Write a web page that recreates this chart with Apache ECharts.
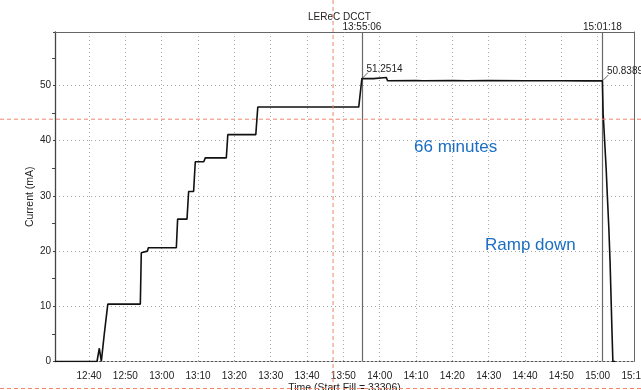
<!DOCTYPE html>
<html>
<head>
<meta charset="utf-8">
<title>LEReC DCCT</title>
<script src="https://cdn.jsdelivr.net/npm/echarts@6/dist/echarts.min.js"></script>
<style>
  html, body { margin: 0; padding: 0; background: #ffffff; }
  #chart { width: 641px; height: 390px; }
</style>
</head>
<body>
<div id="chart"></div>
<script>
// Beam current during fill 33306 (DCCT readback)
const fillTimes = [
  '12:30:38', '12:42:12', '12:42:50', '12:43:23', '12:44:13', '12:44:37', '12:45:10',
  '12:49:40', '12:49:55', '12:50:10', '12:52:25', '12:52:40', '12:52:55', '12:54:07',
  '12:54:23', '12:54:40', '12:56:05', '12:56:19', '13:04:02', '13:04:23', '13:06:58',
  '13:07:25', '13:08:47', '13:09:15', '13:11:35', '13:12:00', '13:17:47', '13:18:12',
  '13:25:54', '13:26:27', '13:54:14', '13:55:06', '13:58:15', '13:58:35', '14:01:50',
  '14:02:10', '14:10:00', '14:12:00', '14:20:00', '14:24:00', '14:30:00', '14:40:00',
  '14:50:00', '14:57:00', '15:00:00', '15:01:18', '15:01:30', '15:01:55', '15:02:20',
  '15:02:40', '15:03:05', '15:03:25', '15:03:40', '15:03:55', '15:04:11', '15:04:50'
];
const currentMA = [
  0, 0, 2.4, 0, 5.1, 5.1, 10.4,
  10.4, 10.6, 10.4, 10.4, 10.6, 10.4, 10.4,
  19.7, 20.0, 20.0, 20.6, 20.6, 25.8, 25.8,
  30.8, 30.8, 36.2, 36.2, 36.9, 36.9, 41.1,
  41.1, 46.1, 46.1, 51.2514, 51.25, 51.45, 51.45,
  50.88, 50.92, 50.86, 50.9, 50.87, 50.9, 50.86,
  50.88, 50.85, 50.86, 50.8389, 45.0, 40.0, 35.0,
  30.0, 24.0, 18.0, 12.0, 6.0, 0, 0
];

// Time markers and their readouts
const markerTimes = ['13:55:06', '15:01:18'];
const markerValues = [51.2514, 50.8389];

// Cursor crosshair position
const cursorTime = '13:47:10';
const cursorCurrent = 43.9;

// Notes written on the plot
const noteTexts = ['66 minutes', 'Ramp down'];

const axisStart = '12:30:38';
const axisEnd = '15:10:00';
const yMax = 59.7;

// clock time "HH:MM:SS" -> minutes after midnight
const toMin = s => {
  const p = s.split(':').map(Number);
  return p[0] * 60 + p[1] + (p[2] || 0) / 60;
};
const pad2 = n => (n < 10 ? '0' : '') + n;
const minLabel = v => {
  const m = Math.round(v);
  return pad2(Math.floor(m / 60)) + ':' + pad2(m % 60);
};

const FONT = '"Liberation Sans", Arial, sans-serif';
const TXT = '#222222';
const GRID_DOT = '#a8a8a8';
const CURSOR = '#f2866c';
const NOTE = '#1a6ec4';

const seriesData = fillTimes.map((t, i) => [toMin(t), currentMA[i]]);

const chart = echarts.init(document.getElementById('chart'), null, { renderer: 'canvas' });

chart.setOption({
  animation: false,
  backgroundColor: '#ffffff',
  title: {
    text: 'LEReC DCCT',
    left: 303,
    top: 7,
    textStyle: { fontFamily: FONT, fontSize: 10, fontWeight: 'normal', color: TXT }
  },
  grid: { left: 55, right: 7, top: 32, bottom: 28.5, outerBoundsMode: 'none', containLabel: false },
  xAxis: [{
    type: 'value',
    min: toMin(axisStart),
    max: toMin(axisEnd),
    splitNumber: 16,
    name: 'Time (Start Fill = 33306)',
    nameLocation: 'middle',
    nameGap: 21,
    nameMoveOverlap: false,
    nameTextStyle: { fontFamily: FONT, fontSize: 10.5, color: TXT },
    axisLine: { show: true, onZero: false, lineStyle: { color: '#555', width: 1, type: [2, 2] } },
    axisTick: { show: false },
    axisLabel: {
      formatter: v => minLabel(v),
      fontFamily: FONT, fontSize: 10, color: TXT, margin: 10,
      showMinLabel: false, showMaxLabel: true, hideOverlap: false
    },
    splitLine: { show: true, lineStyle: { color: GRID_DOT, width: 1, type: [1, 3] } }
  }, {
    type: 'value',
    position: 'top',
    min: toMin(axisStart),
    max: toMin(axisEnd),
    axisLine: { show: true, onZero: false, lineStyle: { color: '#666', width: 1 } },
    axisTick: { show: false },
    axisLabel: { show: false },
    splitLine: { show: false }
  }],
  yAxis: [{
    type: 'value',
    min: 0,
    max: yMax,
    interval: 10,
    name: 'Current (mA)',
    nameLocation: 'middle',
    nameGap: 19,
    nameMoveOverlap: false,
    nameTextStyle: { fontFamily: FONT, fontSize: 10.5, color: TXT },
    axisLine: { show: true, lineStyle: { color: '#444', width: 1.3 } },
    axisTick: { show: true, inside: false, length: 2, lineStyle: { color: '#444' } },
    minorTick: { show: true, splitNumber: 2, length: 3, lineStyle: { color: '#444' } },
    axisLabel: {
      fontFamily: FONT, fontSize: 10, color: TXT, margin: 4,
      showMaxLabel: false,
      formatter: v => (v % 10 === 0 ? String(v) : '')
    },
    splitLine: { show: true, lineStyle: { color: GRID_DOT, width: 1, type: [1, 3] } }
  }, {
    type: 'value',
    position: 'right',
    min: 0,
    max: yMax,
    axisLine: { show: true, lineStyle: { color: '#666', width: 1 } },
    axisTick: { show: false },
    axisLabel: { show: false },
    splitLine: { show: false }
  }],
  series: [{
    type: 'line',
    name: 'DCCT',
    data: seriesData,
    showSymbol: false,
    symbol: 'none',
    lineStyle: { color: '#111111', width: 1.6 },
    z: 5,
    markLine: {
      silent: true,
      symbol: 'none',
      lineStyle: { color: '#6a6a6a', width: 1.2, type: 'solid' },
      label: {
        show: true,
        position: 'end',
        distance: 0,
        fontFamily: FONT, fontSize: 10, color: TXT,
        formatter: p => markerTimes[p.dataIndex]
      },
      data: markerTimes.map(t => ({ xAxis: toMin(t) }))
    },
    markPoint: {
      silent: true,
      symbol: 'path://M0,10L10,0',
      symbolSize: [6, 6],
      symbolOffset: [3, -3],
      itemStyle: { color: 'rgba(0,0,0,0)', borderColor: '#666', borderWidth: 1 },
      label: {
        show: true,
        position: [5, -8],
        fontFamily: FONT, fontSize: 10, color: TXT,
        formatter: p => markerValues[p.dataIndex].toFixed(4)
      },
      data: markerTimes.map((t, i) => ({ coord: [toMin(t), markerValues[i]], value: markerValues[i] }))
    }
  }]
});

// Crosshair lines run across the whole page, placed through the axis scales
const cursorPx = chart.convertToPixel({ gridIndex: 0 }, [toMin(cursorTime), cursorCurrent]);
const W = chart.getWidth();
const H = chart.getHeight();
const dashStyle = { stroke: CURSOR, lineWidth: 1, lineDash: [4, 3] };

chart.setOption({
  graphic: [
    { type: 'line', silent: true, z: 50, shape: { x1: cursorPx[0], y1: 0, x2: cursorPx[0], y2: H }, style: dashStyle },
    { type: 'line', silent: true, z: 50, shape: { x1: 0, y1: cursorPx[1], x2: W, y2: cursorPx[1] }, style: dashStyle },
    { type: 'line', silent: true, z: 50, shape: { x1: 0, y1: H - 1.5, x2: W, y2: H - 1.5 }, style: dashStyle },
    { type: 'text', silent: true, z: 60, left: 414, top: 139,
      style: { text: noteTexts[0], fill: NOTE, font: '17px "Liberation Sans", Arial, sans-serif' } },
    { type: 'text', silent: true, z: 60, left: 485, top: 237,
      style: { text: noteTexts[1], fill: NOTE, font: '17px "Liberation Sans", Arial, sans-serif' } }
  ]
});
</script>
</body>
</html>
